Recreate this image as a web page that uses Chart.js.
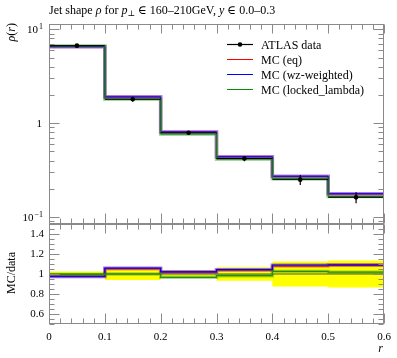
<!DOCTYPE html>
<html>
<head>
<meta charset="utf-8">
<script src="https://cdn.jsdelivr.net/npm/chart.js@4.4.1/dist/chart.umd.min.js"></script>
<style>
  html, body { margin: 0; padding: 0; background: #fff; }
  #wrap { position: relative; width: 397px; height: 358px; }
  canvas { position: absolute; left: 0; }
</style>
</head>
<body>
<div id="wrap">
  <canvas id="main" style="top:0" width="397" height="240"></canvas>
  <canvas id="ratio" style="top:200px" width="397" height="158"></canvas>
</div>
<script>
// bins in r
const binEdges = [0, 0.1, 0.2, 0.3, 0.4, 0.5, 0.6];
// ATLAS data and its error
const dataRho = [6.70, 1.80, 0.790, 0.420, 0.250, 0.162];
const dataErr = [0.17, 0.11, 0.029, 0.028, 0.031, 0.022];
// MC predictions
const mcEq = [6.53, 1.895, 0.806, 0.437, 0.270, 0.176];
const mcWz = [6.54, 1.908, 0.806, 0.438, 0.2725, 0.177];
const mcLocked = [6.67, 1.80, 0.764, 0.413, 0.2565, 0.165];
// ticks
const xTicks = [0, 0.1, 0.2, 0.3, 0.4, 0.5, 0.6];
const xTickLabels = ['0', '0.1', '0.2', '0.3', '0.4', '0.5', '0.6'];
const logTicks = [0.1, 1, 10];
const logTickExp = ['−1', '', '1'];
const ratioTicks = [0.6, 0.8, 1, 1.2, 1.4];
const ratioTickLabels = ['0.6', '0.8', '1', '1.2', '1.4'];

const SERIF = '"Liberation Serif", "DejaVu Serif", serif';
const FRAME = '#8a8a8a';

function steps(vals) {
  const pts = vals.map((v, i) => ({ x: binEdges[i], y: v }));
  pts.push({ x: binEdges[binEdges.length - 1], y: vals[vals.length - 1] });
  return pts;
}
function centers() {
  return binEdges.slice(0, -1).map((e, i) => (e + binEdges[i + 1]) / 2);
}

function stepLine(vals, color, width, order) {
  return { data: steps(vals), borderColor: color, borderWidth: width, stepped: true,
           pointRadius: 0, fill: false, order: order };
}

// minor tick helpers
function range(a, b, step) {
  const out = [];
  for (let v = a; v <= b + 1e-9; v += step) out.push(Math.round(v * 1000) / 1000);
  return out;
}
function logMinors(lo, hi) {
  const out = [];
  for (let d = 0.01; d <= 10; d *= 10)
    for (let k = 2; k <= 9; k++) { const v = k * d; if (v >= lo && v <= hi) out.push(v); }
  return out;
}

function frameAndTicks(chart, yMajor, yMinor, xTop, xBottom) {
  const ctx = chart.ctx, a = chart.chartArea;
  const xs = chart.scales.x, ys = chart.scales.y;
  const L = Math.round(a.left) + 0.5, R = Math.round(a.right) - 0.5;
  const T = Math.round(a.top) + 0.5, B = Math.round(a.bottom) - 0.5;
  ctx.save();
  ctx.strokeStyle = FRAME;
  ctx.lineWidth = 1;
  ctx.strokeRect(L, T, R - L, B - T);
  ctx.beginPath();
  const xMinor = range(0, 0.6, 0.02);
  xMinor.forEach(v => {
    const major = xTicks.some(t => Math.abs(t - v) < 1e-6);
    const len = major ? 10 : 5;
    const px = Math.round(xs.getPixelForValue(v)) + 0.5;
    if (xBottom) { ctx.moveTo(px, B); ctx.lineTo(px, B - len); }
    if (xTop) { ctx.moveTo(px, T); ctx.lineTo(px, T + (major ? 9 : 5)); }
  });
  yMajor.forEach(v => {
    const py = Math.round(ys.getPixelForValue(v)) + 0.5;
    ctx.moveTo(L, py); ctx.lineTo(L + 10, py);
    ctx.moveTo(R, py); ctx.lineTo(R - 10, py);
  });
  yMinor.forEach(v => {
    const py = Math.round(ys.getPixelForValue(v)) + 0.5;
    ctx.moveTo(L, py); ctx.lineTo(L + 5, py);
    ctx.moveTo(R, py); ctx.lineTo(R - 5, py);
  });
  ctx.stroke();
  ctx.restore();
}

function drawRich(ctx, x, y, parts, baseSize) {
  parts.forEach(p => {
    const [text, style, size, dy] = p;
    ctx.font = (style || '') + ' ' + (size || baseSize || 12) + 'px ' + SERIF;
    ctx.fillText(text, x, y + (dy || 0));
    x += ctx.measureText(text).width;
  });
  return x;
}
function richWidth(ctx, parts, baseSize) {
  let w = 0;
  parts.forEach(p => {
    ctx.font = (p[1] || '') + ' ' + (p[2] || baseSize || 12) + 'px ' + SERIF;
    w += ctx.measureText(p[0]).width;
  });
  return w;
}

// data error bars as library line segments
function xBars(vals) {
  const out = [];
  vals.forEach((v, i) => {
    out.push({ x: binEdges[i], y: v }, { x: binEdges[i + 1], y: v }, { x: binEdges[i + 1], y: null });
  });
  return out;
}
function yBars(vals, errs) {
  const c = centers(), out = [];
  vals.forEach((v, i) => {
    out.push({ x: c[i], y: v - errs[i] }, { x: c[i], y: v + errs[i] }, { x: c[i], y: null });
  });
  return out;
}

const mainDecor = {
  id: 'mainDecor',
  afterDraw(chart) {
    const ctx = chart.ctx, ys = chart.scales.y;
    frameAndTicks(chart, logTicks, logMinors(ys.min, ys.max), true, true);
    ctx.save();
    ctx.fillStyle = '#000';
    ctx.textBaseline = 'alphabetic';
    // y tick labels
    logTicks.forEach((v, i) => {
      const py = ys.getPixelForValue(v);
      ctx.font = '11px ' + SERIF;
      if (logTickExp[i] === '') {
        ctx.textAlign = 'right';
        ctx.fillText('1', 42, py + 4);
      } else {
        ctx.font = '8px ' + SERIF;
        const ew = ctx.measureText(logTickExp[i]).width;
        ctx.textAlign = 'right';
        ctx.fillText(logTickExp[i], 43, py);
        ctx.font = '11px ' + SERIF;
        ctx.fillText('10', 42 - ew, py + 4);
      }
    });
    // title, squeezed to the reference width
    ctx.textAlign = 'left';
    const title = [
      ['Jet shape ', ''], ['ρ', 'italic'], [' for ', ''], ['p', 'italic'], ['⊥', '', 8, 2],
      [' ∈ 160–210GeV, ', ''], ['y', 'italic'], [' ∈ 0.0–0.3', '']
    ];
    const tw = richWidth(ctx, title, 12);
    ctx.save();
    ctx.translate(49, 14);
    ctx.scale(Math.min(1, 238 / tw), 1);
    drawRich(ctx, 0, 0, title, 12);
    ctx.restore();
    // y title
    ctx.save();
    ctx.translate(15, 23);
    ctx.rotate(-Math.PI / 2);
    const yt = [['ρ', 'italic'], ['(', ''], ['r', 'italic'], [')', '']];
    drawRich(ctx, -richWidth(ctx, yt, 12), 0, yt, 12);
    ctx.restore();
    // legend
    const rows = [
      ['ATLAS data', '#000', true],
      ['MC (eq)', '#ff0000', false],
      ['MC (wz-weighted)', '#0000ff', false],
      ['MC (locked_lambda)', '#009000', false]
    ];
    rows.forEach((r, i) => {
      const y = Math.round(43.5 + i * 15) + 0.5;
      ctx.strokeStyle = r[1];
      ctx.lineWidth = r[2] ? 1.2 : 1;
      ctx.beginPath(); ctx.moveTo(227, y); ctx.lineTo(253, y); ctx.stroke();
      if (r[2]) { ctx.beginPath(); ctx.arc(240, y, 2.3, 0, Math.PI * 2); ctx.fillStyle = '#000'; ctx.fill(); }
      ctx.fillStyle = '#000';
      ctx.font = '12px ' + SERIF;
      ctx.textAlign = 'left';
      ctx.fillText(r[0], 261, y + 4);
    });
    ctx.restore();
  }
};

const ratioDecor = {
  id: 'ratioDecor',
  afterDraw(chart) {
    const ctx = chart.ctx, xs = chart.scales.x, ys = chart.scales.y;
    frameAndTicks(chart, ratioTicks, range(0.5, 1.5, 0.05).filter(v => !ratioTicks.some(t => Math.abs(t - v) < 1e-6)), true, true);
    ctx.save();
    ctx.fillStyle = '#000';
    ctx.font = '11px ' + SERIF;
    ctx.textAlign = 'right';
    ctx.textBaseline = 'middle';
    ratioTicks.forEach((v, i) => ctx.fillText(ratioTickLabels[i], 44, ys.getPixelForValue(v)));
    ctx.textAlign = 'center';
    ctx.textBaseline = 'top';
    xTicks.forEach((v, i) => ctx.fillText(xTickLabels[i], xs.getPixelForValue(v), chart.chartArea.bottom + 8));
    ctx.font = 'italic 12px ' + SERIF;
    ctx.textAlign = 'right';
    ctx.textBaseline = 'alphabetic';
    ctx.fillText('r', 383, 152);
    ctx.save();
    ctx.translate(15, 73);
    ctx.rotate(-Math.PI / 2);
    ctx.font = '12px ' + SERIF;
    ctx.textAlign = 'center';
    ctx.fillText('MC/data', 0, 0);
    ctx.restore();
    ctx.restore();
  }
};

const common = (padding, ymin, ymax, ytype) => ({
  responsive: false, animation: false, devicePixelRatio: 1,
  layout: { padding: padding },
  plugins: { legend: { display: false }, tooltip: { enabled: false }, filler: { drawTime: 'beforeDatasetsDraw' } },
  scales: {
    x: { type: 'linear', min: 0, max: 0.6, display: false },
    y: { type: ytype, min: ymin, max: ymax, display: false }
  },
  elements: { line: { tension: 0 } }
});

new Chart(document.getElementById('main'), {
  type: 'line',
  data: {
    datasets: [
      stepLine(mcEq, 'rgba(230,0,0,0.35)', 3.5, 9),
      stepLine(mcEq, '#e00000', 1, 8),
      stepLine(mcWz, 'rgba(60,0,255,0.35)', 3.5, 7),
      stepLine(mcWz, '#0000ff', 1, 6),
      stepLine(mcLocked, 'rgba(0,140,0,0.35)', 3.5, 5),
      stepLine(mcLocked, '#1a7a1a', 1, 4),
      { data: xBars(dataRho), borderColor: '#000', borderWidth: 1, pointRadius: 0, order: 3 },
      { data: yBars(dataRho, dataErr), borderColor: '#000', borderWidth: 1.2, pointRadius: 0, order: 2 },
      { data: centers().map((c, i) => ({ x: c, y: dataRho[i] })), showLine: false,
        pointRadius: 2.3, pointBackgroundColor: '#000', pointBorderWidth: 0, order: 1 }
    ]
  },
  options: common({ left: 49, right: 13, top: 24, bottom: 16 }, 0.0842, 11.4, 'logarithmic'),
  plugins: [mainDecor]
});

const ratioOf = vals => vals.map((v, i) => v / dataRho[i]);
new Chart(document.getElementById('ratio'), {
  type: 'line',
  data: {
    datasets: [
      { data: steps(dataErr.map((e, i) => 1 + e / dataRho[i])), borderWidth: 0, stepped: true,
        pointRadius: 0, backgroundColor: '#ffff00', fill: '+1', order: 20 },
      { data: steps(dataErr.map((e, i) => 1 - e / dataRho[i])), borderWidth: 0, stepped: true,
        pointRadius: 0, fill: false, order: 19 },
      { data: xBars(dataRho.map(() => 1)), borderColor: '#555', borderWidth: 1, pointRadius: 0, order: 10 },
      stepLine(ratioOf(mcEq), 'rgba(230,0,0,0.35)', 3.5, 9),
      stepLine(ratioOf(mcEq), '#e00000', 1.2, 8),
      stepLine(ratioOf(mcWz), 'rgba(60,0,255,0.35)', 3.5, 7),
      stepLine(ratioOf(mcWz), '#0000ff', 1.2, 6),
      stepLine(ratioOf(mcLocked), 'rgba(0,140,0,0.35)', 3.5, 5),
      stepLine(ratioOf(mcLocked), '#2a8a1a', 1.2, 4)
    ]
  },
  options: common({ left: 49, right: 13, top: 24, bottom: 34 }, 0.5, 1.5, 'linear'),
  plugins: [ratioDecor]
});
</script>
</body>
</html>
